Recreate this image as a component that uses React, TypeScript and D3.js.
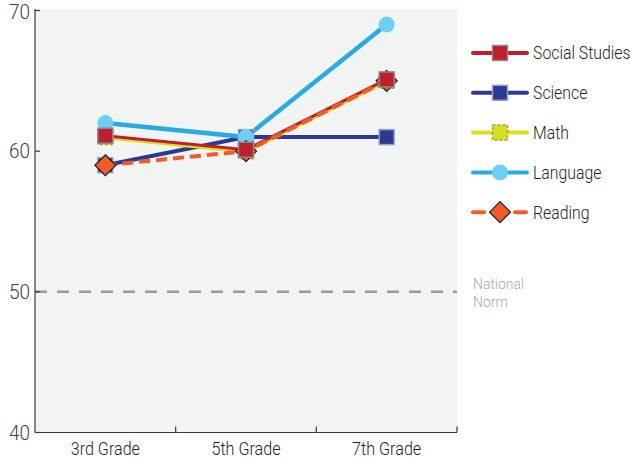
import { useEffect, useRef } from 'react';
import * as d3 from 'd3';

const grades = ['3rd Grade', '5th Grade', '7th Grade'];
const yTicks = [40, 50, 60, 70];
const nationalNorm = 50;

const socialStudies = [61.1, 60.1, 65.1];
const science = [59, 61, 61];
const math = [61, 60, 65];
const language = [62, 61, 69];
const reading = [59, 60, 65];

type Shape = 'square' | 'circle' | 'diamond';

interface Series {
  name: string;
  values: number[];
  line: string;
  fill: string;
  stroke: string;
  width: number;
  dash?: string;
  shape: Shape;
}

const series: Series[] = [
  { name: 'Social Studies', values: socialStudies, line: '#be1e2d', fill: '#be1e2d', stroke: '#8a8a8a', width: 3, shape: 'square' },
  { name: 'Science', values: science, line: '#2b3990', fill: '#2b3990', stroke: '#9aa0c8', width: 4, shape: 'square' },
  { name: 'Math', values: math, line: '#d7df23', fill: '#d7df23', stroke: '#a0a040', width: 4.5, shape: 'square' },
  { name: 'Language', values: language, line: '#29abe2', fill: '#6dcff6', stroke: '#6dcff6', width: 4.5, shape: 'circle' },
  { name: 'Reading', values: reading, line: '#f15a29', fill: '#f15a29', stroke: '#231f20', width: 4, dash: '11,6', shape: 'diamond' },
];

// draw order (lines, then markers)
const lineOrder = ['Science', 'Language', 'Math', 'Social Studies', 'Reading'];
const markerOrder = ['Science', 'Math', 'Language', 'Reading', 'Social Studies'];

const font = "Roboto, 'Liberation Sans', sans-serif";

type G = d3.Selection<SVGGElement, unknown, null, undefined> | d3.Selection<SVGSVGElement, unknown, null, undefined>;

// condensed-looking text: squeeze horizontally around the anchor point
function label(sel: G, tx: number, ty: number, text: string, size: number, sx: number, anchor = 'start', fill = '#231f20') {
  return (sel as any)
    .append('text')
    .attr('transform', `translate(${tx},${ty}) scale(${sx},1)`)
    .attr('text-anchor', anchor)
    .attr('fill', fill)
    .attr('font-family', font)
    .attr('font-weight', 300)
    .attr('font-size', size)
    .text(text);
}

export default function App() {
  const svgRef = useRef<SVGSVGElement>(null);

  useEffect(() => {
    if (!svgRef.current) return;
    const width = 631;
    const height = 460;
    const left = 35;
    const right = 457;
    const top = 9;
    const bottom = 432.5;

    const svg = d3.select(svgRef.current);
    svg.selectAll('*').remove();
    svg.attr('width', width).attr('height', height);

    const x = d3.scaleBand().domain(grades).range([left, right]);
    const y = d3.scaleLinear().domain([40, 70]).range([bottom, 10.5]);

    svg
      .append('rect')
      .attr('x', left)
      .attr('y', top)
      .attr('width', right - left)
      .attr('height', bottom - top)
      .attr('fill', '#f2f3f3');

    // norm line
    svg
      .append('line')
      .attr('x1', left)
      .attr('x2', right)
      .attr('y1', y(nationalNorm))
      .attr('y2', y(nationalNorm))
      .attr('stroke', '#999a9c')
      .attr('stroke-width', 2.5)
      .attr('stroke-dasharray', '12,10');

    label(svg, 473, y(nationalNorm) - 3, 'National', 15.5, 0.9, 'start', '#a7a9ac');
    label(svg, 473, y(nationalNorm) + 15, 'Norm', 15.5, 0.9, 'start', '#a7a9ac');

    const axisColor = '#3a3a3c';

    // y axis
    svg
      .append('line')
      .attr('x1', left)
      .attr('x2', left)
      .attr('y1', top)
      .attr('y2', bottom)
      .attr('stroke', axisColor)
      .attr('stroke-width', 1.2);
    yTicks.forEach((t) => {
      svg
        .append('line')
        .attr('x1', left)
        .attr('x2', left + 5)
        .attr('y1', y(t))
        .attr('y2', y(t))
        .attr('stroke', axisColor)
        .attr('stroke-width', 1.2);
      label(svg, left - 5, Math.max(y(t) + 7, 18.5), String(t), 20, 0.95, 'end', '#414042');
    });

    // x axis
    svg
      .append('line')
      .attr('x1', left)
      .attr('x2', right)
      .attr('y1', bottom)
      .attr('y2', bottom)
      .attr('stroke', axisColor)
      .attr('stroke-width', 1.2);
    grades.forEach((g) => {
      const x1 = x(g)! + x.bandwidth();
      svg
        .append('line')
        .attr('x1', x1)
        .attr('x2', x1)
        .attr('y1', bottom)
        .attr('y2', bottom - 6)
        .attr('stroke', axisColor)
        .attr('stroke-width', 1.2);
      label(svg, x(g)! + x.bandwidth() / 2, 455, g, 19, 0.85, 'middle');
    });

    const cx = (g: string) => x(g)! + x.bandwidth() / 2;
    const line = d3
      .line<number>()
      .x((_, i) => cx(grades[i]))
      .y((d) => y(d));

    const byName = (n: string) => series.find((s) => s.name === n)!;

    const drawMarker = (sel: d3.Selection<SVGGElement, unknown, null, undefined>, s: Series, px: number, py: number) => {
      if (s.shape === 'square') {
        const h = 7.5;
        sel
          .append('rect')
          .attr('x', px - h)
          .attr('y', py - h)
          .attr('width', 2 * h)
          .attr('height', 2 * h)
          .attr('fill', s.fill)
          .attr('stroke', s.stroke)
          .attr('stroke-width', 1.5)
          .attr('stroke-dasharray', s.name === 'Math' ? '3,2' : null);
      } else if (s.shape === 'circle') {
        sel.append('circle').attr('cx', px).attr('cy', py).attr('r', 8).attr('fill', s.fill);
      } else {
        const r = 10.5;
        sel
          .append('path')
          .attr('d', `M${px},${py - r}L${px + r},${py}L${px},${py + r}L${px - r},${py}Z`)
          .attr('fill', s.fill)
          .attr('stroke', s.stroke)
          .attr('stroke-width', 1.2);
      }
    };

    const gLines = svg.append('g');
    lineOrder.forEach((n) => {
      const s = byName(n);
      gLines
        .append('path')
        .attr('d', line(s.values))
        .attr('fill', 'none')
        .attr('stroke', s.line)
        .attr('stroke-width', s.width)
        .attr('stroke-dasharray', s.dash ?? null);
    });

    const gMarkers = svg.append('g');
    markerOrder.forEach((n) => {
      const s = byName(n);
      s.values.forEach((v, i) => drawMarker(gMarkers, s, cx(grades[i]), y(v)));
    });

    // legend
    const lg = svg.append('g');
    series.forEach((s, i) => {
      const ly = 53 + i * 39.8;
      const segs = s.dash ? [[473, 484], [515, 526]] : [[473, 527]];
      segs.forEach(([a, b]) => {
        lg.append('line')
          .attr('x1', a)
          .attr('x2', b)
          .attr('y1', ly)
          .attr('y2', ly)
          .attr('stroke', s.line)
          .attr('stroke-width', 4)
          .attr('stroke-linecap', 'round');
      });
      drawMarker(lg, s, 500, ly);
      label(lg, 533, ly + 6.3, s.name, 18, 0.88);
    });
  }, []);

  return (
    <div style={{ position: 'absolute', left: 0, top: 0 }}>
      <svg ref={svgRef} role="img" aria-label="Scores by grade" style={{ display: 'block' }} />
    </div>
  );
}
